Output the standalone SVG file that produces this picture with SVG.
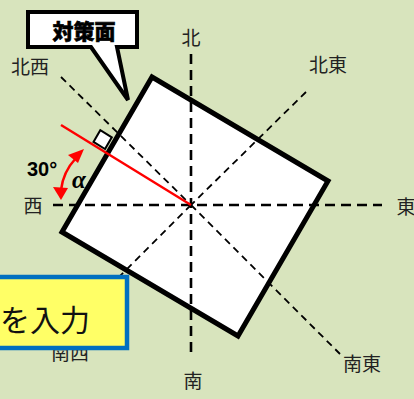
<svg xmlns="http://www.w3.org/2000/svg" width="414" height="399" viewBox="0 0 414 399">
<style>
.lbl{font-family:"Noto Sans CJK JP","Noto Sans",sans-serif;font-size:19px;fill:#222;text-anchor:middle}
.axis{stroke:#000;stroke-width:2.6;stroke-dasharray:10 6;fill:none}
.diag{stroke:#000;stroke-width:1.8;stroke-dasharray:7 5;fill:none}
</style>
<rect x="0" y="0" width="414" height="399" fill="#D8E4BD"/>
<g id="south-west-label"><text class="lbl" x="70" y="360">南西</text></g>
<g id="surface"><polygon points="62,232 152,77 328,181 238,336" fill="#fff" stroke="#000" stroke-width="5" stroke-linejoin="miter"/></g>
<g id="connectors">
<line class="axis" x1="191" y1="54" x2="191" y2="358"/>
<line class="axis" x1="53" y1="205" x2="382" y2="205"/>
<line class="diag" x1="61" y1="77" x2="191" y2="205"/>
<line class="diag" x1="306" y1="92" x2="191" y2="205"/>
<line class="diag" x1="191" y1="205" x2="340" y2="354"/>
<line class="diag" x1="191" y1="205" x2="80" y2="316"/>
<line x1="61" y1="125" x2="191" y2="205" stroke="#f00" stroke-width="2.5"/>
<path d="M76 158 Q63 172 61 190" fill="none" stroke="#f00" stroke-width="2.5"/>
<polygon points="84,149 68,155 78,163" fill="#f00"/>
<polygon points="61,200 53,187 68,188" fill="#f00"/>
</g>
<g id="right-angle"><polygon points="105,149 93.5,141.9 100.3,130.2 111.8,137.3" fill="#fff" stroke="#000" stroke-width="2"/></g>
<g id="callout">
<path d="M28 12 H137 V47 H117 L128 100 L91 47 H28 Z" fill="#fff" stroke="#000" stroke-width="4" stroke-linejoin="miter"/>
<text x="84" y="39" font-family="'Noto Sans CJK JP','Noto Sans',sans-serif" font-size="21" font-weight="900" text-anchor="middle" fill="#000" stroke="#000" stroke-width="0.6">対策面</text>
</g>
<g id="angle-labels">
<text x="27" y="176" font-family="'Liberation Sans',Arial,sans-serif" font-size="20" font-weight="bold" fill="#000">30°</text>
<text x="72" y="188" font-family="'Liberation Serif',serif" font-size="25" font-style="italic" font-weight="bold" fill="#000">α</text>
</g>
<g id="compass-labels">
<text class="lbl" x="191" y="45">北</text>
<text class="lbl" x="30" y="74">北西</text>
<text class="lbl" x="328" y="72">北東</text>
<text class="lbl" x="33" y="213">西</text>
<text class="lbl" x="406" y="214">東</text>
<text class="lbl" x="193" y="388">南</text>
<text class="lbl" x="362" y="371">南東</text>
</g>
<g id="input-box">
<rect x="-10" y="277" width="137" height="71" fill="#FFFF66" stroke="#0070C0" stroke-width="4.5"/>
<text x="0" y="331" font-family="'Noto Sans CJK JP','Noto Sans',sans-serif" font-size="30" fill="#111">を入力</text>
</g>
</svg>
